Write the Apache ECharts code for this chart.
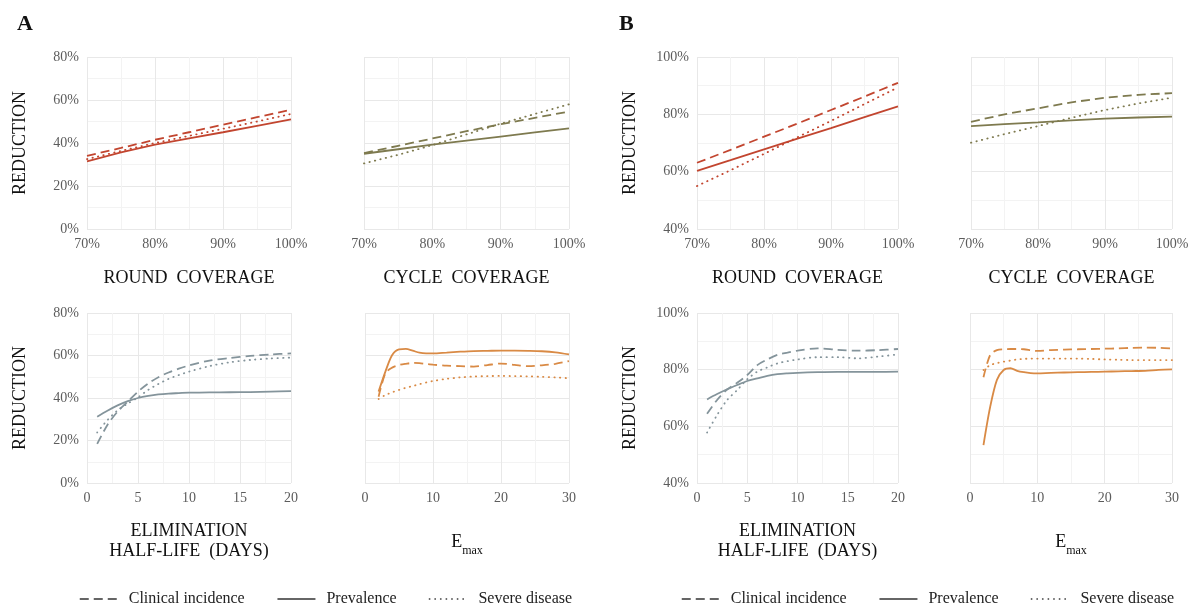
<!DOCTYPE html>
<html>
<head>
<meta charset="utf-8">
<script src="https://cdn.jsdelivr.net/npm/echarts@6/dist/echarts.min.js"></script>
<style>
  html, body { margin: 0; padding: 0; background: #ffffff; }
  #chart { width: 1192px; height: 609px; }
</style>
</head>
<body>
<div id="chart"></div>
<script>
// ---------- DATA ----------
const seriesNames = ['Clinical incidence', 'Prevalence', 'Severe disease'];

const coverageX = [70, 75, 80, 85, 90, 95, 100];
const halfLifeX = [1, 2, 3, 4, 5, 6, 7, 8, 9, 10, 12, 14, 16, 18, 20];
const emaxX = [2, 3, 4, 5, 6, 7, 8, 9, 10, 12, 14, 16, 18, 20, 22, 24, 26, 28, 30];

// Panel A – round coverage
const aRoundClinical = [34, 37.7, 41.5, 45, 48.5, 52, 55.5];
const aRoundPrevalence = [31.5, 35.6, 39.2, 42.2, 45, 48, 51];
const aRoundSevere = [32.5, 36.3, 40, 43.3, 46.6, 50, 53.5];
// Panel A – cycle coverage
const aCycleClinical = [35.3, 38.7, 42.1, 45.5, 48.7, 51.7, 54.6];
const aCyclePrevalence = [35, 37.1, 39.2, 41.1, 43, 44.9, 46.8];
const aCycleSevere = [30.5, 34.5, 39, 44, 49, 53.5, 58];
// Panel A – elimination half-life
const aHalfClinical = [18.4, 27.3, 33.6, 38.3, 43, 46.8, 49.8, 52, 53.8, 55.3, 57.6, 58.8, 59.8, 60.5, 61];
const aHalfPrevalence = [31.2, 34, 36.5, 38.5, 40, 41, 41.7, 42.1, 42.3, 42.5, 42.6, 42.7, 42.8, 43, 43.2];
const aHalfSevere = [23.8, 29.6, 34.2, 37.4, 40.3, 43.8, 46.6, 49, 50.8, 52.4, 55, 56.8, 57.9, 58.6, 59];
// Panel A – Emax
const aEmaxClinical = [40.6, 51.6, 54.3, 55.5, 56.1, 56.5, 56.4, 56, 55.7, 55.2, 55, 54.8, 55.5, 56.2, 55.6, 55, 55.4, 56.1, 57.4];
const aEmaxPrevalence = [43, 52.4, 60.2, 62.9, 63.1, 62.3, 61.3, 61, 61, 61.4, 61.8, 62.1, 62.2, 62.3, 62.3, 62.2, 62, 61.5, 60.5];
const aEmaxSevere = [39.5, 41.4, 42.7, 43.8, 44.8, 45.6, 46.5, 47.3, 48, 49, 49.7, 50.1, 50.3, 50.4, 50.3, 50.2, 50, 49.7, 49.3];

// Panel B – round coverage
const bRoundClinical = [63.1, 67.6, 72.2, 76.8, 81.5, 86.2, 91];
const bRoundPrevalence = [60.3, 64, 67.8, 71.5, 75.2, 79, 82.8];
const bRoundSevere = [55, 60.5, 66.2, 72, 77.7, 83.6, 89.4];
// Panel B – cycle coverage
const bCycleClinical = [77.4, 80, 82.1, 84.2, 85.8, 86.8, 87.4];
const bCyclePrevalence = [75.9, 76.6, 77.2, 77.9, 78.5, 78.9, 79.2];
const bCycleSevere = [70.1, 73.1, 75.9, 78.8, 81.5, 83.8, 85.8];
// Panel B – elimination half-life
const bHalfClinical = [64.4, 69.3, 73, 75.4, 78.1, 81.6, 83.6, 85.2, 86, 86.7, 87.5, 87, 86.7, 86.9, 87.3];
const bHalfPrevalence = [69.5, 71.4, 73.1, 74.6, 76, 76.9, 77.8, 78.4, 78.7, 78.9, 79.1, 79.2, 79.2, 79.2, 79.3];
const bHalfSevere = [57.8, 64, 69.3, 72.8, 76.6, 79.3, 80.8, 82.2, 83, 83.6, 84.4, 84.4, 84, 84.6, 85.4];
// Panel B – Emax
const bEmaxClinical = [77.3, 85.2, 86.9, 87.2, 87.3, 87.3, 87.2, 86.9, 86.6, 86.9, 87.1, 87.2, 87.3, 87.4, 87.5, 87.7, 87.8, 87.7, 87.5];
const bEmaxPrevalence = [53.4, 66.9, 76.4, 79.9, 80.5, 79.6, 79.1, 78.8, 78.7, 78.9, 79, 79.1, 79.2, 79.3, 79.4, 79.5, 79.6, 79.9, 80.1];
const bEmaxSevere = [79.9, 81.6, 82.3, 82.8, 83.2, 83.6, 83.8, 83.9, 83.9, 83.9, 83.9, 83.9, 83.8, 83.6, 83.5, 83.4, 83.4, 83.4, 83.4];

// ---------- LAYOUT / STYLE ----------
const FONT = '"Liberation Serif", "DejaVu Serif", "Times New Roman", serif';
const RED = '#c2452f', OLIVE = '#7e7a4f', GRAY = '#84949b', ORANGE = '#d98a45';
const lineTypes = [[9, 5], 'solid', [0.4, 5.2]];

const panels = [
  // group A
  { left: 87,  top: 57,  width: 204, height: 172, x: coverageX, ys: [aRoundClinical, aRoundPrevalence, aRoundSevere], color: RED,
    xMin: 70, xMax: 100, xInt: 10, xPct: true, yMin: 0, yMax: 80, yLabels: true, name: 'ROUND  COVERAGE', smooth: false },
  { left: 364, top: 57,  width: 205, height: 172, x: coverageX, ys: [aCycleClinical, aCyclePrevalence, aCycleSevere], color: OLIVE,
    xMin: 70, xMax: 100, xInt: 10, xPct: true, yMin: 0, yMax: 80, yLabels: false, name: 'CYCLE  COVERAGE', smooth: false },
  { left: 87,  top: 313, width: 204, height: 170, x: halfLifeX, ys: [aHalfClinical, aHalfPrevalence, aHalfSevere], color: GRAY,
    xMin: 0, xMax: 20, xInt: 5, xPct: false, yMin: 0, yMax: 80, yLabels: true, name: 'ELIMINATION\nHALF-LIFE  (DAYS)', smooth: 0.3 },
  { left: 365, top: 313, width: 204, height: 170, x: emaxX, ys: [aEmaxClinical, aEmaxPrevalence, aEmaxSevere], color: ORANGE,
    xMin: 0, xMax: 30, xInt: 10, xPct: false, yMin: 0, yMax: 80, yLabels: false, name: 'EMAX', smooth: 0.3 },
  // group B
  { left: 697, top: 57,  width: 201, height: 172, x: coverageX, ys: [bRoundClinical, bRoundPrevalence, bRoundSevere], color: RED,
    xMin: 70, xMax: 100, xInt: 10, xPct: true, yMin: 40, yMax: 100, yLabels: true, name: 'ROUND  COVERAGE', smooth: false },
  { left: 971, top: 57,  width: 201, height: 172, x: coverageX, ys: [bCycleClinical, bCyclePrevalence, bCycleSevere], color: OLIVE,
    xMin: 70, xMax: 100, xInt: 10, xPct: true, yMin: 40, yMax: 100, yLabels: false, name: 'CYCLE  COVERAGE', smooth: false },
  { left: 697, top: 313, width: 201, height: 170, x: halfLifeX, ys: [bHalfClinical, bHalfPrevalence, bHalfSevere], color: GRAY,
    xMin: 0, xMax: 20, xInt: 5, xPct: false, yMin: 40, yMax: 100, yLabels: true, name: 'ELIMINATION\nHALF-LIFE  (DAYS)', smooth: 0.3 },
  { left: 970, top: 313, width: 202, height: 170, x: emaxX, ys: [bEmaxClinical, bEmaxPrevalence, bEmaxSevere], color: ORANGE,
    xMin: 0, xMax: 30, xInt: 10, xPct: false, yMin: 40, yMax: 100, yLabels: false, name: 'EMAX', smooth: 0.3 }
];

const majorLine = { show: true, lineStyle: { color: '#e8e8e8', width: 1 } };
const minorLine = { show: true, lineStyle: { color: '#f3f3f3', width: 1 } };
const tickLabel = { color: '#5c5c5c', fontFamily: FONT, fontSize: 14 };

const grids = [], xAxes = [], yAxes = [], series = [];
panels.forEach((p, i) => {
  grids.push({ left: p.left, top: p.top, width: p.width, height: p.height, containLabel: false });
  const isEmax = p.name === 'EMAX';
  const twoLine = p.name.indexOf('\n') >= 0;
  xAxes.push({
    type: 'value', gridIndex: i, min: p.xMin, max: p.xMax, interval: p.xInt,
    axisLine: { show: false }, axisTick: { show: false },
    axisLabel: Object.assign({ margin: 8, formatter: p.xPct ? '{value}%' : '{value}', showMinLabel: true, showMaxLabel: true }, tickLabel),
    splitLine: majorLine,
    minorTick: { show: false, splitNumber: 2 },
    minorSplitLine: minorLine,
    name: isEmax ? '{e|E}{s|max}' : p.name,
    nameLocation: 'middle',
    nameGap: twoLine ? 38 : (isEmax ? 46 : 39),
    nameTextStyle: isEmax ? {
      fontFamily: FONT, color: '#111',
      rich: {
        e: { fontFamily: FONT, fontSize: 18, color: '#111', verticalAlign: 'bottom', lineHeight: 22 },
        s: { fontFamily: FONT, fontSize: 12, color: '#111', verticalAlign: 'bottom', lineHeight: 22, padding: [0, 0, -6, 0] }
      }
    } : { fontFamily: FONT, fontSize: 18, color: '#111', lineHeight: 20 }
  });
  yAxes.push({
    type: 'value', gridIndex: i, min: p.yMin, max: p.yMax, interval: 20,
    axisLine: { show: false }, axisTick: { show: false },
    axisLabel: Object.assign({ show: p.yLabels, margin: 8, formatter: '{value}%' }, tickLabel),
    splitLine: majorLine,
    minorTick: { show: false, splitNumber: 2 },
    minorSplitLine: minorLine,
    name: p.yLabels ? 'REDUCTION' : '',
    nameLocation: 'middle', nameRotate: 90, nameGap: 58,
    nameTextStyle: { fontFamily: FONT, fontSize: 18, color: '#111' }
  });
  p.ys.forEach((vals, k) => {
    series.push({
      name: seriesNames[k], type: 'line', xAxisIndex: i, yAxisIndex: i,
      data: p.x.map((xv, j) => [xv, vals[j]]),
      symbol: 'none', smooth: p.smooth, silent: true,
      lineStyle: { color: p.color, width: 1.8, type: lineTypes[k], cap: k === 2 ? 'round' : 'butt' },
      itemStyle: { color: p.color }
    });
  });
});

const legendCommon = {
  data: seriesNames, bottom: -3, orient: 'horizontal', itemWidth: 38, itemHeight: 12, itemGap: 32,
  lineStyle: { color: '#333', width: 1.5 },
  itemStyle: { color: '#333', opacity: 0, borderWidth: 0 },
  textStyle: { fontFamily: FONT, fontSize: 16, color: '#222', padding: [0, 0, 0, 6] },
  selectedMode: false
};

const option = {
  backgroundColor: '#ffffff',
  animation: false,
  title: [
    { text: 'A', left: 12, top: 8, textStyle: { fontFamily: FONT, fontSize: 22, fontWeight: 'bold', color: '#111' } },
    { text: 'B', left: 614, top: 8, textStyle: { fontFamily: FONT, fontSize: 22, fontWeight: 'bold', color: '#111' } }
  ],
  legend: [
    Object.assign({ left: 74 }, legendCommon),
    Object.assign({ left: 676 }, legendCommon)
  ],
  grid: grids,
  xAxis: xAxes,
  yAxis: yAxes,
  series: series
};

const chart = echarts.init(document.getElementById('chart'), null, { renderer: 'canvas' });
chart.setOption(option);
</script>
</body>
</html>
